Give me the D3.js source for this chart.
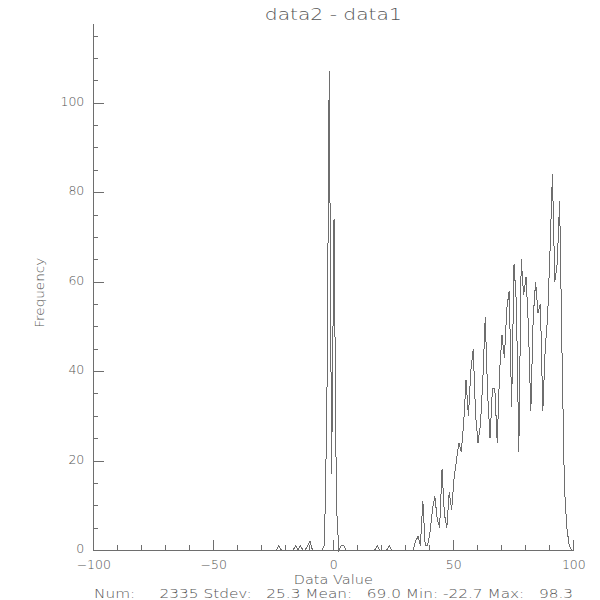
<!DOCTYPE html>
<html><head><meta charset="utf-8">
<script src="https://cdn.jsdelivr.net/npm/d3@7"></script>
<style>
html,body{margin:0;padding:0;background:#fff;}
svg{display:block;}
text{font-family:"DejaVu Sans",sans-serif;font-weight:200;fill:#555555;}
</style></head><body>
<svg id="chart" width="600" height="600"></svg>
<script>
const title = "data2 - data1";
const xTitle = "Data Value";
const yTitle = "Frequency";
const statsLine = "Num:     2335 Stdev:   25.3 Mean:   69.0 Min: -22.7 Max:   98.3";

// histogram: first bin location and bin size, then counts per bin
const binStart = -24.7;
const binSize = 1;
const counts = [
  0,0,1,0,0,0,0,0,0,1,
  0,1,0,0,1,2,0,0,0,0,
  0,1,30,107,17,74,10,0,1,1,
  0,0,0,0,0,0,0,0,0,0,
  0,0,0,1,0,0,0,0,1,0,
  0,0,0,0,0,0,0,0,0,2,
  3,1,11,1,1,4,9,12,7,5,
  18,8,5,13,9,16,20,24,22,28,
  38,30,40,45,30,24,28,38,52,35,
  25,36,36,24,40,48,43,54,58,32,
  64,55,22,65,57,61,50,31,52,60,
  53,55,31,45,52,67,84,60,64,78,
  44,14,5,1,0
];

const xMajorTicks = [-100, -50, 0, 50, 100];
const xMinorTicks = [-90, -80, -70, -60, -40, -30, -20, -10, 10, 20, 30, 40, 60, 70, 80, 90];
const yMajorTicks = [0, 20, 40, 60, 80, 100];
const yMinorTicks = [5, 10, 15, 25, 30, 35, 45, 50, 55, 65, 70, 75, 85, 90, 95, 105, 110, 115];
const xDomain = [-100, 100];
const yDomain = [0, 117.7];

(function () {
const ink = "#6e6e6e";
const textInk = "#555555";
const svg = d3.select("#chart");
const pLeft = 93.3, pRight = 573.3, pTop = 23.5, pBottom = 550;

const x = d3.scaleLinear().domain(xDomain).range([pLeft, pRight]);
const y = d3.scaleLinear().domain(yDomain).range([pBottom, pTop]);

const fmt = d3.format("d");

// x axis minor ticks
svg.append("g").attr("transform", `translate(0,${pBottom})`)
  .call(d3.axisBottom(x).tickValues(xMinorTicks).tickSize(-5).tickSizeOuter(0).tickFormat(""))
  .call(g => g.select(".domain").remove());
// x axis major
const gx = svg.append("g").attr("transform", `translate(0,${pBottom})`)
  .call(d3.axisBottom(x).tickValues(xMajorTicks).tickSize(-10.5).tickSizeOuter(0).tickFormat(fmt));
gx.selectAll("text").attr("y", 19).attr("dy", null)
  .style("font-size", "12.5px").style("font-family", '"DejaVu Sans",sans-serif').attr("fill", textInk);

// y axis minor
svg.append("g").attr("transform", `translate(${pLeft},0)`)
  .call(d3.axisLeft(y).tickValues(yMinorTicks).tickSize(-5).tickSizeOuter(0).tickFormat(""))
  .call(g => g.select(".domain").remove());
// y axis major
const gy = svg.append("g").attr("transform", `translate(${pLeft},0)`)
  .call(d3.axisLeft(y).tickValues(yMajorTicks).tickSize(-10.5).tickSizeOuter(0).tickPadding(9).tickFormat(fmt));
gy.selectAll("text").attr("dy", "0.2em")
  .style("font-size", "12.5px").style("font-family", '"DejaVu Sans",sans-serif').attr("fill", textInk);

svg.selectAll(".domain, .tick line").attr("stroke", ink).attr("stroke-width", 1)
  .attr("shape-rendering", "crispEdges");

// histogram line
const line = d3.line()
  .x((d, i) => x(binStart + i * binSize))
  .y(d => y(d));
svg.append("path").datum(counts)
  .attr("d", line)
  .attr("fill", "none").attr("stroke", ink).attr("stroke-width", 1)
  .attr("shape-rendering", "crispEdges");

// title
svg.append("text").attr("x", (pLeft + pRight) / 2).attr("y", 20)
  .attr("text-anchor", "middle").style("font-size", "16px")
  .attr("textLength", 137).attr("lengthAdjust", "spacingAndGlyphs")
  .text(title);

// x title
svg.append("text").attr("x", (pLeft + pRight) / 2).attr("y", 584)
  .attr("text-anchor", "middle").style("font-size", "13px")
  .attr("textLength", 79).attr("lengthAdjust", "spacingAndGlyphs")
  .text(xTitle);

// stats line
svg.append("text").attr("x", 94).attr("y", 598)
  .style("font-size", "13px").style("white-space", "pre")
  .attr("textLength", 479).attr("lengthAdjust", "spacingAndGlyphs")
  .text(statsLine);

// y title
svg.append("text").attr("transform", `translate(44,${(pTop + pBottom) / 2 + 6}) rotate(-90)`)
  .attr("text-anchor", "middle").style("font-size", "13px")
  .attr("textLength", 70).attr("lengthAdjust", "spacingAndGlyphs")
  .text(yTitle);
})();
</script>
</body></html>
